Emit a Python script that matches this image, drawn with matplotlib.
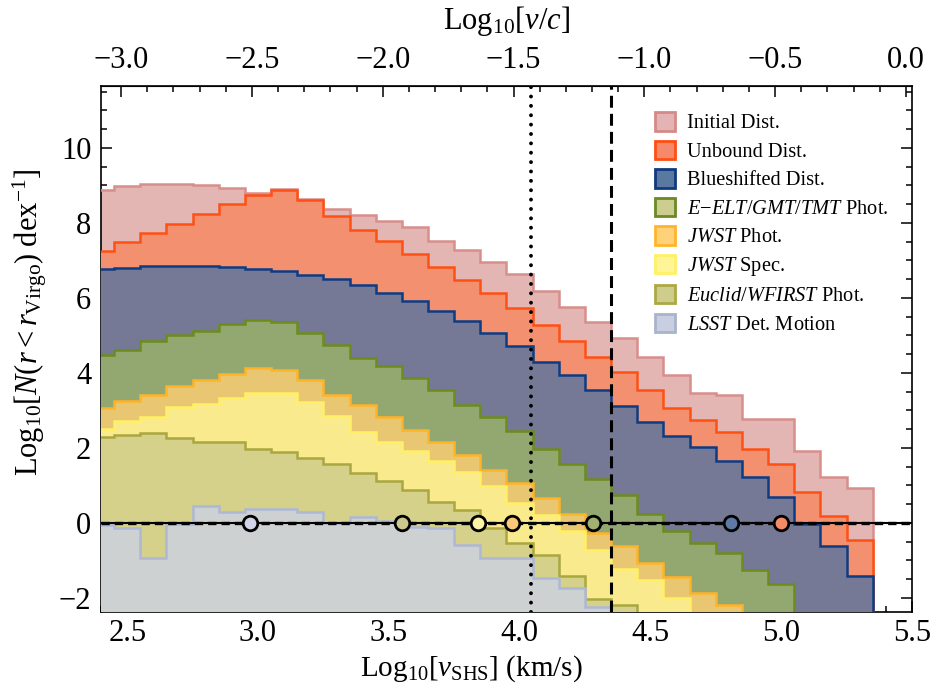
import numpy as np
import matplotlib
matplotlib.use("Agg")
import matplotlib.pyplot as plt
from matplotlib.patches import Patch
from matplotlib.ticker import MultipleLocator, FixedLocator, FuncFormatter

plt.rcParams['font.family'] = ['Liberation Serif', 'DejaVu Serif']
plt.rcParams['mathtext.fontset'] = 'custom'
plt.rcParams['mathtext.rm'] = 'Liberation Serif'
plt.rcParams['mathtext.it'] = 'Liberation Serif:italic'
plt.rcParams['mathtext.bf'] = 'Liberation Serif:bold'

# bin edges in Log10[v_SHS] (0.1 dex bins, centres 2.4 ... 5.3)
edges = np.round(np.arange(2.35, 5.36, 0.1), 2)
LOGC = np.log10(299792.458)
OFF = -10.0  # bins with nothing in range

initial = [8.89, 8.98, 9.05, 9.03, 9.00, 8.92, 8.80, 8.91, 8.64, 8.37,
           8.22, 8.05, 7.88, 7.52, 7.27, 6.96, 6.65, 6.18, 5.75, 5.36,
           4.94, 4.41, 3.95, 3.45, 3.41, 2.78, 2.78, 1.92, 1.23, 0.92]
unbound = [7.25, 7.49, 7.74, 7.98, 8.25, 8.50, 8.74, 8.89, 8.61, 8.18,
           7.82, 7.51, 7.18, 6.83, 6.49, 6.12, 5.72, 5.27, 4.84, 4.41,
           4.02, 3.54, 3.07, 2.74, 2.43, 1.98, 1.57, 0.81, 0.19, -0.46]
blueshift = [6.78, 6.81, 6.85, 6.86, 6.85, 6.83, 6.78, 6.72, 6.62, 6.50,
             6.34, 6.14, 5.92, 5.65, 5.39, 5.07, 4.71, 4.30, 3.93, 3.55,
             3.11, 2.69, 2.32, 2.01, 1.65, 1.23, 0.69, -0.03, -0.62, -1.42]
eelt = [4.47, 4.62, 4.85, 5.00, 5.11, 5.30, 5.41, 5.36, 5.07, 4.73,
        4.40, 4.17, 3.85, 3.54, 3.14, 2.83, 2.45, 1.98, 1.58, 1.16,
        0.74, 0.23, -0.22, -0.55, -0.80, -1.26, -1.64, OFF, OFF, OFF]
jwst_phot = [3.05, 3.25, 3.41, 3.65, 3.81, 3.98, 4.12, 4.07, 3.81, 3.42,
             3.14, 2.81, 2.47, 2.16, 1.81, 1.42, 1.05, 0.67, 0.24, -0.28,
             -0.62, -1.08, -1.44, -1.88, -2.20, OFF, OFF, OFF, OFF, OFF]
jwst_spec = [2.50, 2.71, 2.83, 3.09, 3.18, 3.32, 3.45, 3.47, 3.23, 2.86,
             2.43, 2.16, 1.92, 1.65, 1.36, 0.98, 0.52, 0.21, -0.22, -0.73,
             -1.22, -1.53, -2.00, OFF, OFF, OFF, OFF, OFF, OFF, OFF]
euclid = [2.28, 2.33, 2.40, 2.25, 2.15, 2.15, 1.98, 1.89, 1.74, 1.56,
          1.33, 1.12, 0.87, 0.56, 0.34, -0.15, -0.53, -0.86, -1.42, -2.04,
          -2.18, OFF, OFF, OFF, OFF, OFF, OFF, OFF, OFF, OFF]
lsst = [-0.05, -0.15, -0.95, -0.04, 0.45, 0.29, 0.38, 0.37, 0.29, 0.00,
        0.15, 0.05, -0.10, -0.15, -0.60, -0.93, -0.93, -1.48, -1.75, -2.24,
        OFF, OFF, OFF, OFF, OFF, OFF, OFF, OFF, OFF, OFF]

labels = ['Initial Dist.', 'Unbound Dist.', 'Blueshifted Dist.',
          r'$E{-}ELT/GMT/TMT$ Phot.', r'$JWST$ Phot.', r'$JWST$ Spec.',
          r'$Euclid/WFIRST$ Phot.', r'$LSST$ Det. Motion']
series = [initial, unbound, blueshift, eelt, jwst_phot, jwst_spec, euclid, lsst]

# peak positions marked on the zero line (same order as series)
peak_x = [None, 5.00, 4.81, 4.28, 3.97, 3.84, 3.55, 2.97]

top_ticks = [-3.0, -2.5, -2.0, -1.5, -1.0, -0.5, 0.0]

fill_cols = ['#e3b6b4', '#f29070', '#757995', '#93a770',
             '#e9c772', '#f9ea8e', '#d6d18a', '#cdd1d1']
edge_cols = ['#d88f8c', '#ff5014', '#0c3c84', '#6c8c1c',
             '#ffb428', '#fff064', '#aaa740', '#adb8d6']
leg_face = ['#e4b4b4', '#f6896a', '#5b78a1', '#cdcd90',
            '#ffd27a', '#fff596', '#cfcd8c', '#c9cfe0']
leg_edge = ['#d48a88', '#ff4e14', '#0f3a7e', '#6a8a26',
            '#ffb42a', '#fff064', '#aca844', '#a9b4cc']
marker_cols = [None, '#f38a68', '#5d7aa6', '#a2b16e',
               '#fcc877', '#fdf5a6', '#cbc98e', '#d0d5e8']


def one_dec(v, pos):
    return f'{v:.1f}'.replace('-', '\u2212')


fig, ax = plt.subplots(figsize=(9.32, 6.94), dpi=100)
fig.subplots_adjust(left=0.1084, right=0.9785, bottom=0.1186, top=0.876)

for i, vals in enumerate(series):
    ax.stairs(vals, edges, baseline=OFF, fill=True, color=fill_cols[i],
              lw=0, zorder=2 + 2 * i)
    ax.stairs(vals, edges, baseline=OFF, fill=False, color=edge_cols[i],
              lw=1.8, zorder=3 + 2 * i)

ax.axvline(4.045, color='k', lw=2.8, linestyle=(0, (0.01, 2.4)),
           dash_capstyle='round', zorder=30)
ax.axvline(4.35, color='k', lw=2.2, linestyle=(0, (3.9, 2.0)), zorder=30)

ax.axhline(0, color='k', lw=1.5, zorder=31)
ax.axhline(0, color='k', lw=2.4, linestyle=(0, (2.5, 1.5)), zorder=31)

for i, px in enumerate(peak_x):
    if px is None:
        continue
    ax.plot(px, 0, 'o', ms=10.5, mfc=marker_cols[i], mec='k', mew=2.0,
            zorder=32, clip_on=False)

ax.set_xlim(2.4, 5.5)
ax.set_ylim(-2.37, 11.65)

ax.xaxis.set_major_locator(MultipleLocator(0.5))
ax.xaxis.set_minor_locator(MultipleLocator(0.1))
ax.yaxis.set_major_locator(MultipleLocator(2))
ax.yaxis.set_minor_locator(MultipleLocator(0.5))
ax.xaxis.set_major_formatter(FuncFormatter(one_dec))
ax.tick_params(which='both', direction='in', top=False, right=True,
               labelsize=22, width=1.1)
ax.tick_params(which='major', length=8, pad=7)
ax.tick_params(axis='x', which='major', pad=5)
ax.tick_params(which='minor', length=4)
for sp in ax.spines.values():
    sp.set_linewidth(1.2)

ax.set_xlabel(r'$\mathrm{Log}_{10}[v_{\mathrm{SHS}}]$ (km/s)', fontsize=21)
ax.xaxis.set_label_coords(0.457, -0.079)
ax.set_ylabel(r'$\mathrm{Log}_{10}[N(r < r_{\mathrm{Virgo}})\ \mathrm{dex}^{-1}]$',
              fontsize=22)
ax.yaxis.set_label_coords(-0.064, 0.55)

top = ax.secondary_xaxis('top', functions=(lambda x: x - LOGC,
                                           lambda v: v + LOGC))
top.xaxis.set_major_locator(FixedLocator(top_ticks))
top.xaxis.set_minor_locator(FixedLocator(
    np.round(np.arange(-3.0, 0.01, 0.1), 1)))
top.xaxis.set_major_formatter(FuncFormatter(one_dec))
top.tick_params(which='both', direction='in', labelsize=22, width=1.1)
top.tick_params(which='major', length=8, pad=8)
top.tick_params(which='minor', length=4)
top.set_xlabel(r'$\mathrm{Log}_{10}[v/c]$', fontsize=22, labelpad=12)

handles = [Patch(facecolor=leg_face[i], edgecolor=leg_edge[i], lw=2)
           for i in range(len(labels))]
ax.legend(handles, labels, loc='upper left', bbox_to_anchor=(0.683, 0.95),
          frameon=False, fontsize=14.7, handlelength=1.0, handleheight=1.0,
          handletextpad=0.55, labelspacing=0.36, borderpad=0, borderaxespad=0)

fig.savefig('out.png', dpi=100)
